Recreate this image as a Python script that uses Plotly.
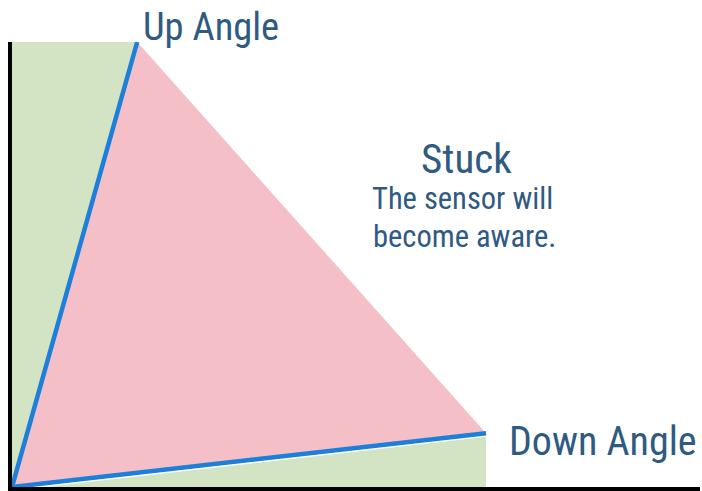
import plotly.graph_objects as go

# Key points (x, y) in chart units
origin = (0, 0)
up_angle = (18.2, 100)
down_angle = (68.9, 12.1)
x_max = 100
y_max = 100

labels = ["Up Angle", "Down Angle", "Stuck", "The sensor will", "become aware."]

green = "#d3e4c4"
pink = "#f4bfc7"
blue = "#1d7fd9"
txt = "#2f5a82"
font_family = "Roboto Condensed, Roboto, Open Sans, sans-serif"

fig = go.Figure()
# Green left wedge
fig.add_trace(go.Scatter(x=[origin[0], origin[0], up_angle[0], origin[0]],
                         y=[origin[1], y_max, up_angle[1], origin[1]],
                         fill="toself", fillcolor=green, mode="none", hoverinfo="skip"))
# Green bottom wedge
fig.add_trace(go.Scatter(x=[origin[0], down_angle[0], down_angle[0], origin[0]],
                         y=[origin[1], down_angle[1], 0, origin[1]],
                         fill="toself", fillcolor=green, mode="none", hoverinfo="skip"))
# Pink stuck triangle
fig.add_trace(go.Scatter(x=[origin[0], up_angle[0], down_angle[0], origin[0]],
                         y=[origin[1], up_angle[1], down_angle[1], origin[1]],
                         fill="toself", fillcolor=pink, mode="none", hoverinfo="skip"))
# White separation just under the down line
fig.add_trace(go.Scatter(x=[origin[0], down_angle[0]], y=[origin[1] - 0.6, down_angle[1] - 0.6],
                         mode="lines", line=dict(color="white", width=2), hoverinfo="skip"))
# Blue angle lines
fig.add_trace(go.Scatter(x=[origin[0], up_angle[0]], y=[origin[1], up_angle[1]],
                         mode="lines", line=dict(color=blue, width=4.5), hoverinfo="skip"))
fig.add_trace(go.Scatter(x=[origin[0], down_angle[0]], y=[origin[1], down_angle[1]],
                         mode="lines", line=dict(color=blue, width=4.5), hoverinfo="skip"))

ann = [
    dict(x=18.75, y=1.034, yref="paper", text=labels[0], xanchor="left", size=38.5),
    dict(x=72.0, y=10.3, yref="y", text=labels[1], xanchor="left", size=40),
    dict(x=66.1, y=73.8, yref="y", text=labels[2], xanchor="center", size=41),
    dict(x=65.5, y=64.9, yref="y", text=labels[3], xanchor="center", size=30.5),
    dict(x=65.8, y=56.2, yref="y", text=labels[4], xanchor="center", size=30.5),
]
for a in ann:
    fig.add_annotation(x=a["x"], y=a["y"], xref="x", yref=a["yref"], text=a["text"],
                       showarrow=False, xanchor=a["xanchor"], yanchor="middle",
                       font=dict(family=font_family, size=a["size"], color=txt))

fig.update_layout(
    width=702, height=491,
    margin=dict(l=12, r=2, t=42, b=4),
    paper_bgcolor="white", plot_bgcolor="white",
    showlegend=False,
    xaxis=dict(range=[0, x_max], showgrid=False, zeroline=False, showticklabels=False,
               ticks="", showline=True, linecolor="black", linewidth=4),
    yaxis=dict(range=[0, y_max], showgrid=False, zeroline=False, showticklabels=False,
               ticks="", showline=True, linecolor="black", linewidth=4),
)
# Remove the default page margin so the figure fills the window exactly
fig.write_html("out.html", config={"displayModeBar": False},
               post_script="document.body.style.margin='0';document.body.style.overflow='hidden';")
